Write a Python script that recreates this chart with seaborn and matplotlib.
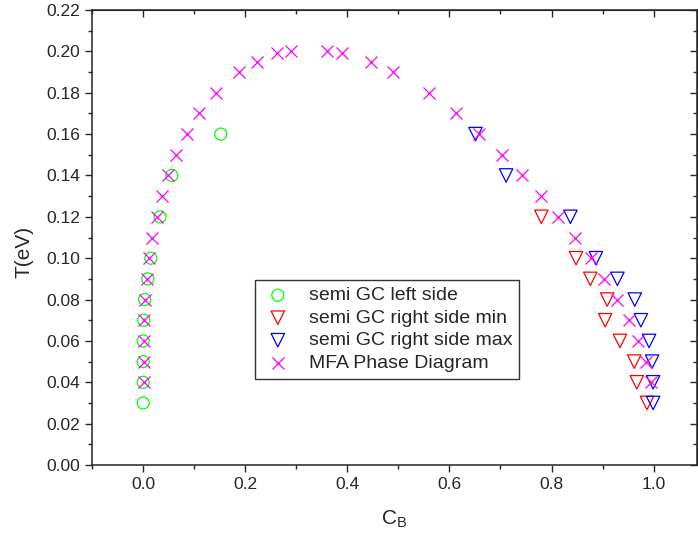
import numpy as np
import pandas as pd
import matplotlib
matplotlib.use("Agg")
import matplotlib.pyplot as plt
import seaborn as sns
from matplotlib.ticker import MultipleLocator

sns.set_style("ticks")
plt.rcParams['font.family'] = ['Liberation Sans', 'DejaVu Sans']
plt.rcParams['mathtext.fontset'] = 'custom'
plt.rcParams['mathtext.rm'] = 'Liberation Sans'

# semi GC left side
left_T = [0.03, 0.04, 0.05, 0.06, 0.07, 0.08, 0.09, 0.10, 0.12, 0.14, 0.16]
left_C = [0.0, 0.0, 0.0, 0.0, 0.001, 0.003, 0.009, 0.015, 0.033, 0.056, 0.152]

# semi GC right side min
rmin_T = [0.12, 0.10, 0.09, 0.08, 0.07, 0.06, 0.05, 0.04, 0.03]
rmin_C = [0.780, 0.848, 0.876, 0.909, 0.905, 0.934, 0.962, 0.967, 0.987]

# semi GC right side max
rmax_T = [0.16, 0.14, 0.12, 0.10, 0.09, 0.08, 0.07, 0.06, 0.05, 0.04, 0.03]
rmax_C = [0.651, 0.711, 0.837, 0.887, 0.929, 0.963, 0.975, 0.991, 0.997, 0.999, 0.999]

# MFA phase diagram
mfa_T = [0.04, 0.05, 0.06, 0.07, 0.08, 0.09, 0.10, 0.11, 0.12, 0.13, 0.14, 0.15,
         0.16, 0.17, 0.18, 0.19, 0.195, 0.199, 0.200, 0.200, 0.199, 0.195, 0.19,
         0.18, 0.17, 0.16, 0.15, 0.14, 0.13, 0.12, 0.11, 0.10, 0.09, 0.08, 0.07,
         0.06, 0.05, 0.04]
mfa_C = [0.001, 0.001, 0.001, 0.001, 0.003, 0.007, 0.011, 0.017, 0.027, 0.037,
         0.048, 0.065, 0.085, 0.109, 0.142, 0.188, 0.222, 0.263, 0.289, 0.361,
         0.390, 0.447, 0.490, 0.559, 0.613, 0.658, 0.703, 0.743, 0.780, 0.813,
         0.846, 0.878, 0.903, 0.929, 0.952, 0.970, 0.985, 0.995]

fig = plt.figure(figsize=(6.98, 5.43), dpi=100)
ax = fig.add_axes([0.132, 0.1436, 0.8666, 0.838])

ms = 75
sns.scatterplot(x=left_C, y=left_T, ax=ax, marker='o', s=ms, facecolors='none',
                edgecolor='#00ff00', linewidth=0.9, label='semi GC left side')
sns.scatterplot(x=rmin_C, y=rmin_T, ax=ax, marker='v', s=ms * 1.25, facecolors='none',
                edgecolor='#ff0000', linewidth=0.9, label='semi GC right side min')
sns.scatterplot(x=rmax_C, y=rmax_T, ax=ax, marker='v', s=ms * 1.25, facecolors='none',
                edgecolor='#0000ff', linewidth=0.9, label='semi GC right side max')
sns.scatterplot(x=mfa_C, y=mfa_T, ax=ax, marker='x', s=ms, color='#ff00ff',
                linewidth=0.9, label='MFA Phase Diagram')

ax.set_xlim(-0.1, 1.085)
ax.set_ylim(0.0, 0.22)
ax.xaxis.set_major_locator(MultipleLocator(0.2))
ax.xaxis.set_minor_locator(MultipleLocator(0.1))
ax.yaxis.set_major_locator(MultipleLocator(0.02))
ax.yaxis.set_minor_locator(MultipleLocator(0.01))
ax.xaxis.set_major_formatter(matplotlib.ticker.FormatStrFormatter('%.1f'))
ax.yaxis.set_major_formatter(matplotlib.ticker.FormatStrFormatter('%.2f'))
ax.tick_params(which='major', direction='out', length=5, width=1, labelsize=12.5)
ax.tick_params(which='minor', direction='out', length=3, width=1)
for s in ax.spines.values():
    s.set_linewidth(1.1)

# inward ticks on top and right
top = ax.secondary_xaxis('top')
top.xaxis.set_major_locator(MultipleLocator(0.2))
top.xaxis.set_minor_locator(MultipleLocator(0.1))
top.tick_params(which='major', direction='in', length=5, width=1, labeltop=False)
top.tick_params(which='minor', direction='in', length=3, width=1)
right = ax.secondary_yaxis('right')
right.yaxis.set_major_locator(MultipleLocator(0.02))
right.yaxis.set_minor_locator(MultipleLocator(0.01))
right.tick_params(which='major', direction='in', length=5, width=1, labelright=False)
right.tick_params(which='minor', direction='in', length=3, width=1)

ax.set_xlabel(r'C$_{\mathrm{B}}$', fontsize=15, labelpad=12)
ax.set_ylabel('T(eV)', fontsize=15)
ax.yaxis.set_label_coords(-0.097, 0.468)

leg = ax.legend(loc='lower left', bbox_to_anchor=(0.27, 0.19), frameon=True,
                fancybox=False, edgecolor='black', fontsize=14,
                borderpad=0.35, labelspacing=0.25, handlelength=1.6,
                handletextpad=0.8, borderaxespad=0)
leg.get_frame().set_linewidth(1.0)

fig.savefig('out.png', dpi=100)
